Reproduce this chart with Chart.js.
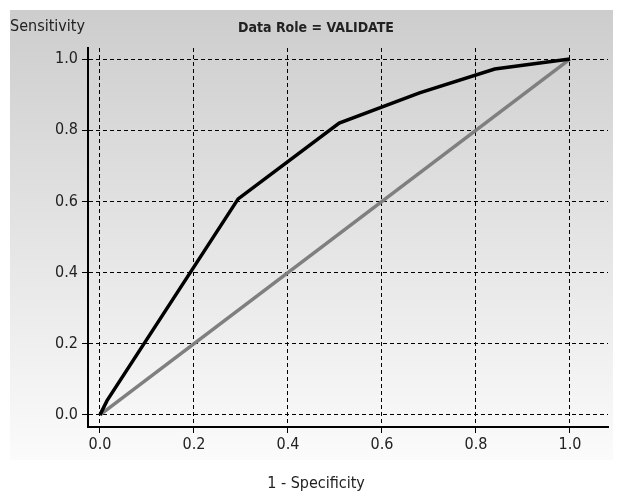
<!DOCTYPE html>
<html>
<head>
<meta charset="utf-8">
<script src="https://cdn.jsdelivr.net/npm/chart.js@4.4.1/dist/chart.umd.min.js"></script>
<style>
  html, body { margin: 0; padding: 0; background: #fff; }
  #wrap { width: 620px; height: 495px; }
</style>
</head>
<body>
<div id="wrap"><canvas id="roc" width="620" height="495"></canvas></div>
<script>
// ROC curve, validate partition
const fpr = [0, 0.015, 0.294, 0.509, 0.68, 0.84, 1];
const tpr = [0, 0.04, 0.607, 0.82, 0.905, 0.972, 1];
const baseX = [0, 1];
const baseY = [0, 1];
const tickVals = [0, 0.2, 0.4, 0.6, 0.8, 1.0];

const FONT = '"Liberation Sans Narrow", "DejaVu Sans Condensed", "Liberation Sans", sans-serif';

const toPts = (xs, ys) => xs.map((x, i) => ({ x: x, y: ys[i] }));

// gray gradient panel + the free texts
const panel = {
	id: "panel",
	beforeDraw(chart) {
		let ctx = chart.ctx;
		ctx.save();
		let g = ctx.createLinearGradient(0, 10, 0, 460);
		g.addColorStop(0, "#cdcdcd");
		g.addColorStop(1, "#fbfbfb");
		ctx.fillStyle = g;
		ctx.fillRect(10, 10, 603, 450);
		ctx.restore();
	},
	afterDraw(chart) {
		let ctx = chart.ctx;
		ctx.save();
		ctx.fillStyle = "#222";
		ctx.textBaseline = "middle";
		ctx.font = "16px " + FONT;
		ctx.textAlign = "left";
		ctx.fillText("Sensitivity", 10, 27);
		ctx.textAlign = "center";
		ctx.fillText("1 - Specificity", 316, 484);
		ctx.font = "bold 14px " + FONT;
		ctx.fillText("Data Role = VALIDATE", 316, 28);
		ctx.restore();
	}
};

const axisCommon = {
	type: "linear",
	afterBuildTicks: s => { s.ticks = tickVals.map(v => ({ value: v })); },
	ticks: {
		color: "#222",
		font: { size: 16, family: FONT },
		callback: v => v.toFixed(1)
	},
	grid: {
		color: "#000",
		lineWidth: 1,
		drawTicks: true,
		tickLength: 6,
		tickColor: "#000",
		tickWidth: 1
	},
	border: { display: true, color: "#000", width: 2, dash: [4, 3] }
};

new Chart(document.getElementById("roc"), {
	type: "scatter",
	data: {
		datasets: [
			{
				data: toPts(fpr, tpr),
				showLine: true,
				borderColor: "#000",
				borderWidth: 3.5,
				pointRadius: 0,
				tension: 0
			},
			{
				data: toPts(baseX, baseY),
				showLine: true,
				borderColor: "#7f7f7f",
				borderWidth: 3.5,
				pointRadius: 0
			}
		]
	},
	options: {
		responsive: false,
		animation: false,
		layout: { padding: { top: 48, right: 12, left: 0, bottom: 0 } },
		plugins: { legend: { display: false }, tooltip: { enabled: false }, title: { display: false } },
		scales: {
			x: Object.assign({}, axisCommon, {
				min: -0.0255, max: 1.081,
				afterFit: s => { s.height = 68; },
				ticks: Object.assign({}, axisCommon.ticks, { padding: 2, maxRotation: 0 })
			}),
			y: Object.assign({}, axisCommon, {
				min: -0.034, max: 1.031,
				afterFit: s => { s.width = 88; },
				ticks: Object.assign({}, axisCommon.ticks, { padding: 4 })
			})
		}
	},
	plugins: [panel]
});
</script>
</body>
</html>
